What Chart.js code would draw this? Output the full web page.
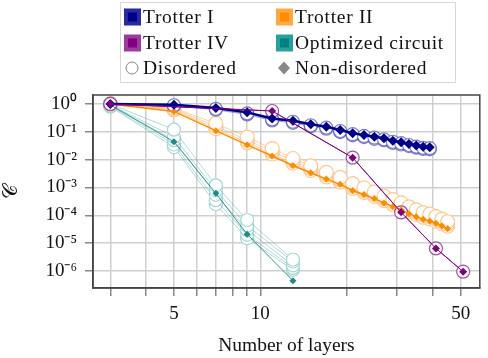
<!DOCTYPE html>
<html>
<head>
<meta charset="utf-8">
<script src="https://cdn.jsdelivr.net/npm/chart.js@4.4.1/dist/chart.umd.min.js"></script>
<style>
  body { margin: 0; background: #fff; }
</style>
</head>
<body>
<canvas id="myChart" width="488" height="358"></canvas>
<script>
// tick positions and labels
const xTickValues = [3, 4, 5, 6, 7, 8, 9, 10, 20, 30, 40, 50];
const xTickLabels = ['', '', '5', '', '', '', '', '10', '', '', '', '50'];
const yTickValues = [1, 1e-1, 1e-2, 1e-3, 1e-4, 1e-5, 1e-6];
const yTickLabels = ['10⁰', '10⁻¹', '10⁻²', '10⁻³', '10⁻⁴', '10⁻⁵', '10⁻⁶'];
const legendLabels = ['Trotter I', 'Trotter II', 'Trotter IV', 'Optimized circuit', 'Disordered', 'Non-disordered'];

// Trotter I
const trotter1Layers = [3, 5, 7, 9, 11, 13, 15, 17, 19, 21, 23, 25, 27, 29, 31, 33, 35, 37, 39];
const trotter1Clean = [1.0, 0.93, 0.72, 0.50, 0.30, 0.25, 0.187, 0.153, 0.116, 0.089, 0.077, 0.067, 0.059, 0.048, 0.042, 0.0365, 0.032, 0.029, 0.028];
const trotter1Disordered = [
  [1.0, 0.90, 0.67, 0.46, 0.28, 0.23, 0.172, 0.141, 0.107, 0.082, 0.071, 0.062, 0.054, 0.044, 0.039, 0.0336, 0.0295, 0.0267, 0.0258],
  [1.0, 0.85, 0.62, 0.42, 0.255, 0.21, 0.158, 0.129, 0.098, 0.075, 0.065, 0.056, 0.050, 0.040, 0.035, 0.0307, 0.027, 0.0244, 0.0235]
];

// Trotter II
const trotter2Layers = [3, 5, 7, 9, 11, 13, 15, 17, 19, 21, 23, 25, 27, 29, 31, 33, 35, 37, 39, 41, 43, 45];
const trotter2Clean = [1.0, 0.54, 0.11, 0.034, 0.0135, 0.0062, 0.0034, 0.0020, 0.0013, 7.8e-4, 5.6e-4, 4.0e-4, 2.8e-4, 2.1e-4, 1.6e-4, 1.15e-4, 9.0e-5, 7.2e-5, 6.3e-5, 5.2e-5, 4.2e-5, 3.4e-5];
const trotter2Disordered = [
  [1.0, 0.72, 0.20, 0.065, 0.025, 0.011, 0.0060, 0.0035, 0.0023, 0.00137, 9.8e-4, 7.0e-4, 4.9e-4, 3.7e-4, 2.8e-4, 2.0e-4, 1.57e-4, 1.26e-4, 1.1e-4, 9.0e-5, 7.3e-5, 5.9e-5],
  [1.0, 0.66, 0.16, 0.050, 0.020, 0.0090, 0.0049, 0.0029, 0.0019, 0.00113, 8.1e-4, 5.8e-4, 4.1e-4, 3.0e-4, 2.3e-4, 1.67e-4, 1.3e-4, 1.04e-4, 9.1e-5, 7.5e-5, 6.1e-5, 4.9e-5],
  [1.0, 0.62, 0.13, 0.041, 0.016, 0.0075, 0.0041, 0.0024, 0.0016, 9.4e-4, 6.7e-4, 4.8e-4, 3.4e-4, 2.5e-4, 1.9e-4, 1.38e-4, 1.08e-4, 8.6e-5, 7.6e-5, 6.2e-5, 5.0e-5, 4.1e-5]
];

// Trotter IV
const trotter4Layers = [3, 11, 21, 31, 41, 51];
const trotter4Clean = [1.0, 0.56, 0.0118, 1.28e-4, 6.5e-6, 9.5e-7];
const trotter4Disordered = [
  [1.0, 0.56, 0.0118, 1.28e-4, 6.5e-6, 9.5e-7]
];

// Optimized circuit
const optLayers = [3, 5, 7, 9, 13];
const optClean = [0.92, 0.044, 6.2e-4, 2.1e-5, 4.5e-7];
const optDisordered = [
  [1.0, 0.12, 1.2e-3, 6.8e-5, 2.6e-6],
  [0.95, 0.065, 8.0e-4, 4.2e-5, 2.2e-6],
  [0.9, 0.050, 5.5e-4, 3.0e-5, 1.6e-6],
  [0.85, 0.035, 3.5e-4, 2.0e-5, 1.3e-6],
  [0.8, 0.028, 2.5e-4, 1.5e-5, 1.1e-6]
];

function pts(xs, ys) {
  return xs.map((x, i) => ({ x: x, y: ys[i] }));
}

function cleanSet(xs, ys, color, width, r) {
  return {
    data: pts(xs, ys), borderColor: color, backgroundColor: color, borderWidth: width,
    pointStyle: 'rectRot', pointRadius: r, pointBorderWidth: 0, tension: 0
  };
}

function disSet(xs, ys, line, ring, width, r) {
  return {
    data: pts(xs, ys), borderColor: line, borderWidth: width,
    pointStyle: 'circle', pointRadius: r, pointBorderWidth: 1.2,
    pointBorderColor: ring, pointBackgroundColor: '#ffffff', tension: 0
  };
}

// diamonds first so they end up on top
const datasets = [
  cleanSet(trotter4Layers, trotter4Clean, '#800080', 1, 4),
  cleanSet(trotter1Layers, trotter1Clean, '#00008b', 2.5, 5),
  cleanSet(trotter2Layers, trotter2Clean, '#ff8c00', 1.5, 3.5),
  cleanSet(optLayers, optClean, '#1a8a8a', 0.9, 3.5)
];
trotter4Disordered.forEach(d => datasets.push(disSet(trotter4Layers, d, '#9a3c9a', '#a050a0', 1, 6.5)));
trotter1Disordered.forEach(d => datasets.push(disSet(trotter1Layers, d, 'rgba(60,60,170,0.5)', 'rgba(70,70,180,0.7)', 1, 6.5)));
trotter2Disordered.forEach(d => datasets.push(disSet(trotter2Layers, d, 'rgba(255,170,80,0.55)', '#ffc88f', 1, 7)));
optDisordered.forEach(d => datasets.push(disSet(optLayers, d, 'rgba(40,150,150,0.45)', '#a6d6d6', 0.8, 6.5)));

const frame = {
  id: 'frame',
  beforeDatasetsDraw(chart) {
    const a = chart.chartArea, c = chart.ctx;
    c.save();
    c.strokeStyle = '#444';
    c.lineWidth = 1.5;
    c.strokeRect(a.left, a.top, a.right - a.left, a.bottom - a.top);
    c.restore();
  }
};

// legend box with two columns, drawn on the canvas
const boxLegend = {
  id: 'boxLegend',
  afterDraw(chart) {
    const c = chart.ctx;
    const outer = ['#2a2aa0', '#ffa940', '#a03aa0', '#2aa09c'];
    const inner = ['#00008b', '#ff8c00', '#800080', '#008080'];
    const colX = [124, 276], rowY = [17, 43, 68];
    c.save();
    c.fillStyle = '#fff';
    c.fillRect(120.5, 2.5, 335, 80);
    c.strokeStyle = '#d8d8d8';
    c.lineWidth = 1;
    c.strokeRect(120.5, 2.5, 335, 80);
    c.font = '19.5px "Liberation Serif"';
    c.textBaseline = 'middle';
    c.fillStyle = '#111';
    legendLabels.forEach((txt, i) => {
      const x = colX[i % 2], y = rowY[Math.floor(i / 2)];
      if (i < 4) {
        c.fillStyle = outer[i];
        c.fillRect(x, y - 8.5, 17, 17);
        c.fillStyle = inner[i];
        c.fillRect(x + 4, y - 4.5, 9, 9);
      } else if (i === 4) {
        c.strokeStyle = '#888';
        c.beginPath();
        c.arc(x + 8, y, 6, 0, Math.PI * 2);
        c.stroke();
      } else {
        c.fillStyle = '#888';
        c.beginPath();
        c.moveTo(x + 8, y - 6.5);
        c.lineTo(x + 14, y);
        c.lineTo(x + 8, y + 6.5);
        c.lineTo(x + 2, y);
        c.closePath();
        c.fill();
      }
      c.fillStyle = '#111';
      c.letterSpacing = '0.7px';
      c.fillText(txt, x + 19, y + 1);
    });
    c.restore();
  }
};

const ctx = document.getElementById('myChart').getContext('2d');
const myChart = new Chart(ctx, {
  type: 'line',
  data: { datasets: datasets },
  plugins: [frame, boxLegend],
  options: {
    responsive: false,
    animation: false,
    layout: { padding: { top: 95, right: 3, left: 0, bottom: 0 } },
    plugins: { legend: { display: false }, tooltip: { enabled: false } },
    scales: {
      x: {
        type: 'logarithmic', min: 2.61, max: 58.3,
        afterBuildTicks: s => { s.ticks = xTickValues.map(v => ({ value: v })); },
        afterFit: s => { s.height = 70; },
        ticks: {
          autoSkip: false, maxRotation: 0, padding: 7, color: '#111',
          font: { family: 'Liberation Serif', size: 19 },
          callback: (v) => xTickLabels[xTickValues.indexOf(v)]
        },
        grid: { color: '#cfcfcf', lineWidth: 1.5, tickColor: '#888', tickLength: 8 },
        border: { color: '#444', width: 1.5 },
        title: {
          display: true, text: 'Number of layers', color: '#111', padding: { top: 0, bottom: 0 },
          font: { family: 'Liberation Serif', size: 19.5 }
        }
      },
      y: {
        type: 'logarithmic', min: 2.46e-7, max: 2.1,
        afterBuildTicks: s => { s.ticks = yTickValues.map(v => ({ value: v })); },
        afterFit: s => { s.width = 93; },
        ticks: {
          autoSkip: false, padding: 8, color: '#111',
          font: { family: 'Liberation Serif', size: 19 },
          callback: (v) => yTickLabels[yTickValues.indexOf(v)]
        },
        grid: { color: '#cfcfcf', lineWidth: 1.5, tickColor: '#888', tickLength: 8 },
        border: { color: '#444', width: 1.5 },
        title: {
          display: true, text: '𝒞', color: '#111', padding: { top: 0, bottom: 0 },
          font: { family: 'DejaVu Serif', size: 20 }
        }
      }
    }
  }
});
</script>
</body>
</html>
